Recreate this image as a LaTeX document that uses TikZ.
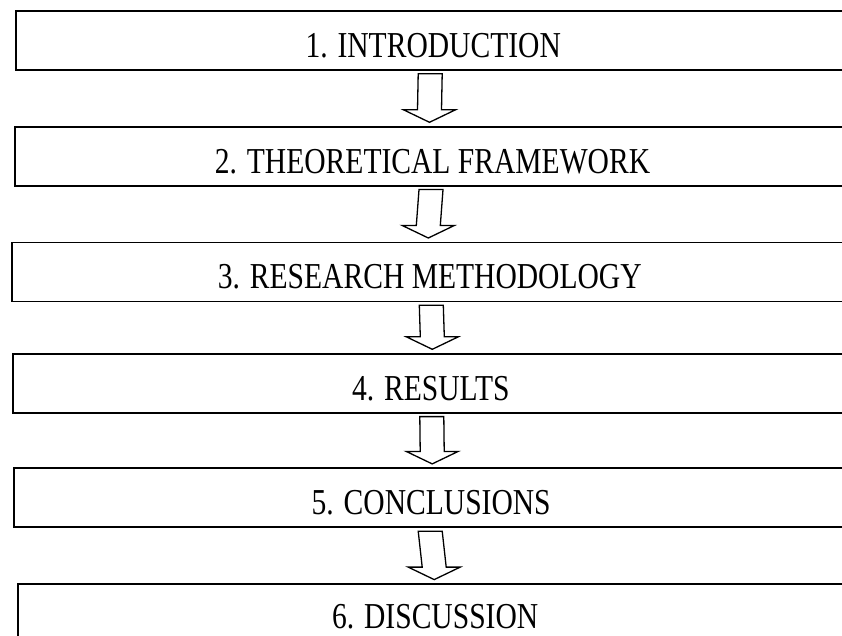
\documentclass[tikz,border=0pt]{standalone}
\usepackage{fontspec}
\setmainfont{Liberation Serif}
\newfontfamily\stagefont[FakeStretch=0.81]{Liberation Serif}
\usetikzlibrary{calc}
\begin{document}
\begin{tikzpicture}[x=1pt,y=-1pt,
  box/.style={draw=black, line width=1.8pt, rectangle, minimum width=835pt,
    minimum height=59pt, inner sep=0pt},
  txt/.style={font=\stagefont\fontsize{36.5}{42}\selectfont, yshift=-5pt, inner sep=0pt},
  blockarrow/.style={draw=black, line width=1.3pt, fill=white, line join=miter}]
\useasboundingbox (0,0) rectangle (842,636);
\clip (0,0) rectangle (842,636);

% stages of the study, top to bottom
\node[box, label={[txt]center:1. INTRODUCTION}]            (b1) at (433.2,40.4)  {};
\node[box, label={[txt]center:2. THEORETICAL FRAMEWORK}]   (b2) at (432.5,156.2) {};
\node[box, label={[txt]center:3. RESEARCH METHODOLOGY}]    (b3) at (429.8,271.9) {};
\node[box, label={[txt]center:4. RESULTS}]                 (b4) at (430.8,383.2) {};
\node[box, label={[txt]center:5. CONCLUSIONS}]             (b5) at (431.2,497.8) {};
\node[box, label={[txt,yshift=1.5pt]center:6. DISCUSSION}] (b6) at (435.2,613.5) {};

% hollow block arrows between consecutive stages
\foreach \a/\b/\dx in {b1/b2/-3, b2/b3/-1.5, b3/b4/1.5, b4/b5/1, b5/b6/-1}{
  \draw[blockarrow]
    ($(\a.south)+(\dx-12,3)$) -- ($(\b.north)+(\dx-12,-16)$)
    -- ($(\b.north)+(\dx-26,-16)$) -- ($(\b.north)+(\dx,-3.5)$)
    -- ($(\b.north)+(\dx+26,-16)$) -- ($(\b.north)+(\dx+12,-16)$)
    -- ($(\a.south)+(\dx+12,3)$) -- cycle;
}
\end{tikzpicture}
\end{document}
